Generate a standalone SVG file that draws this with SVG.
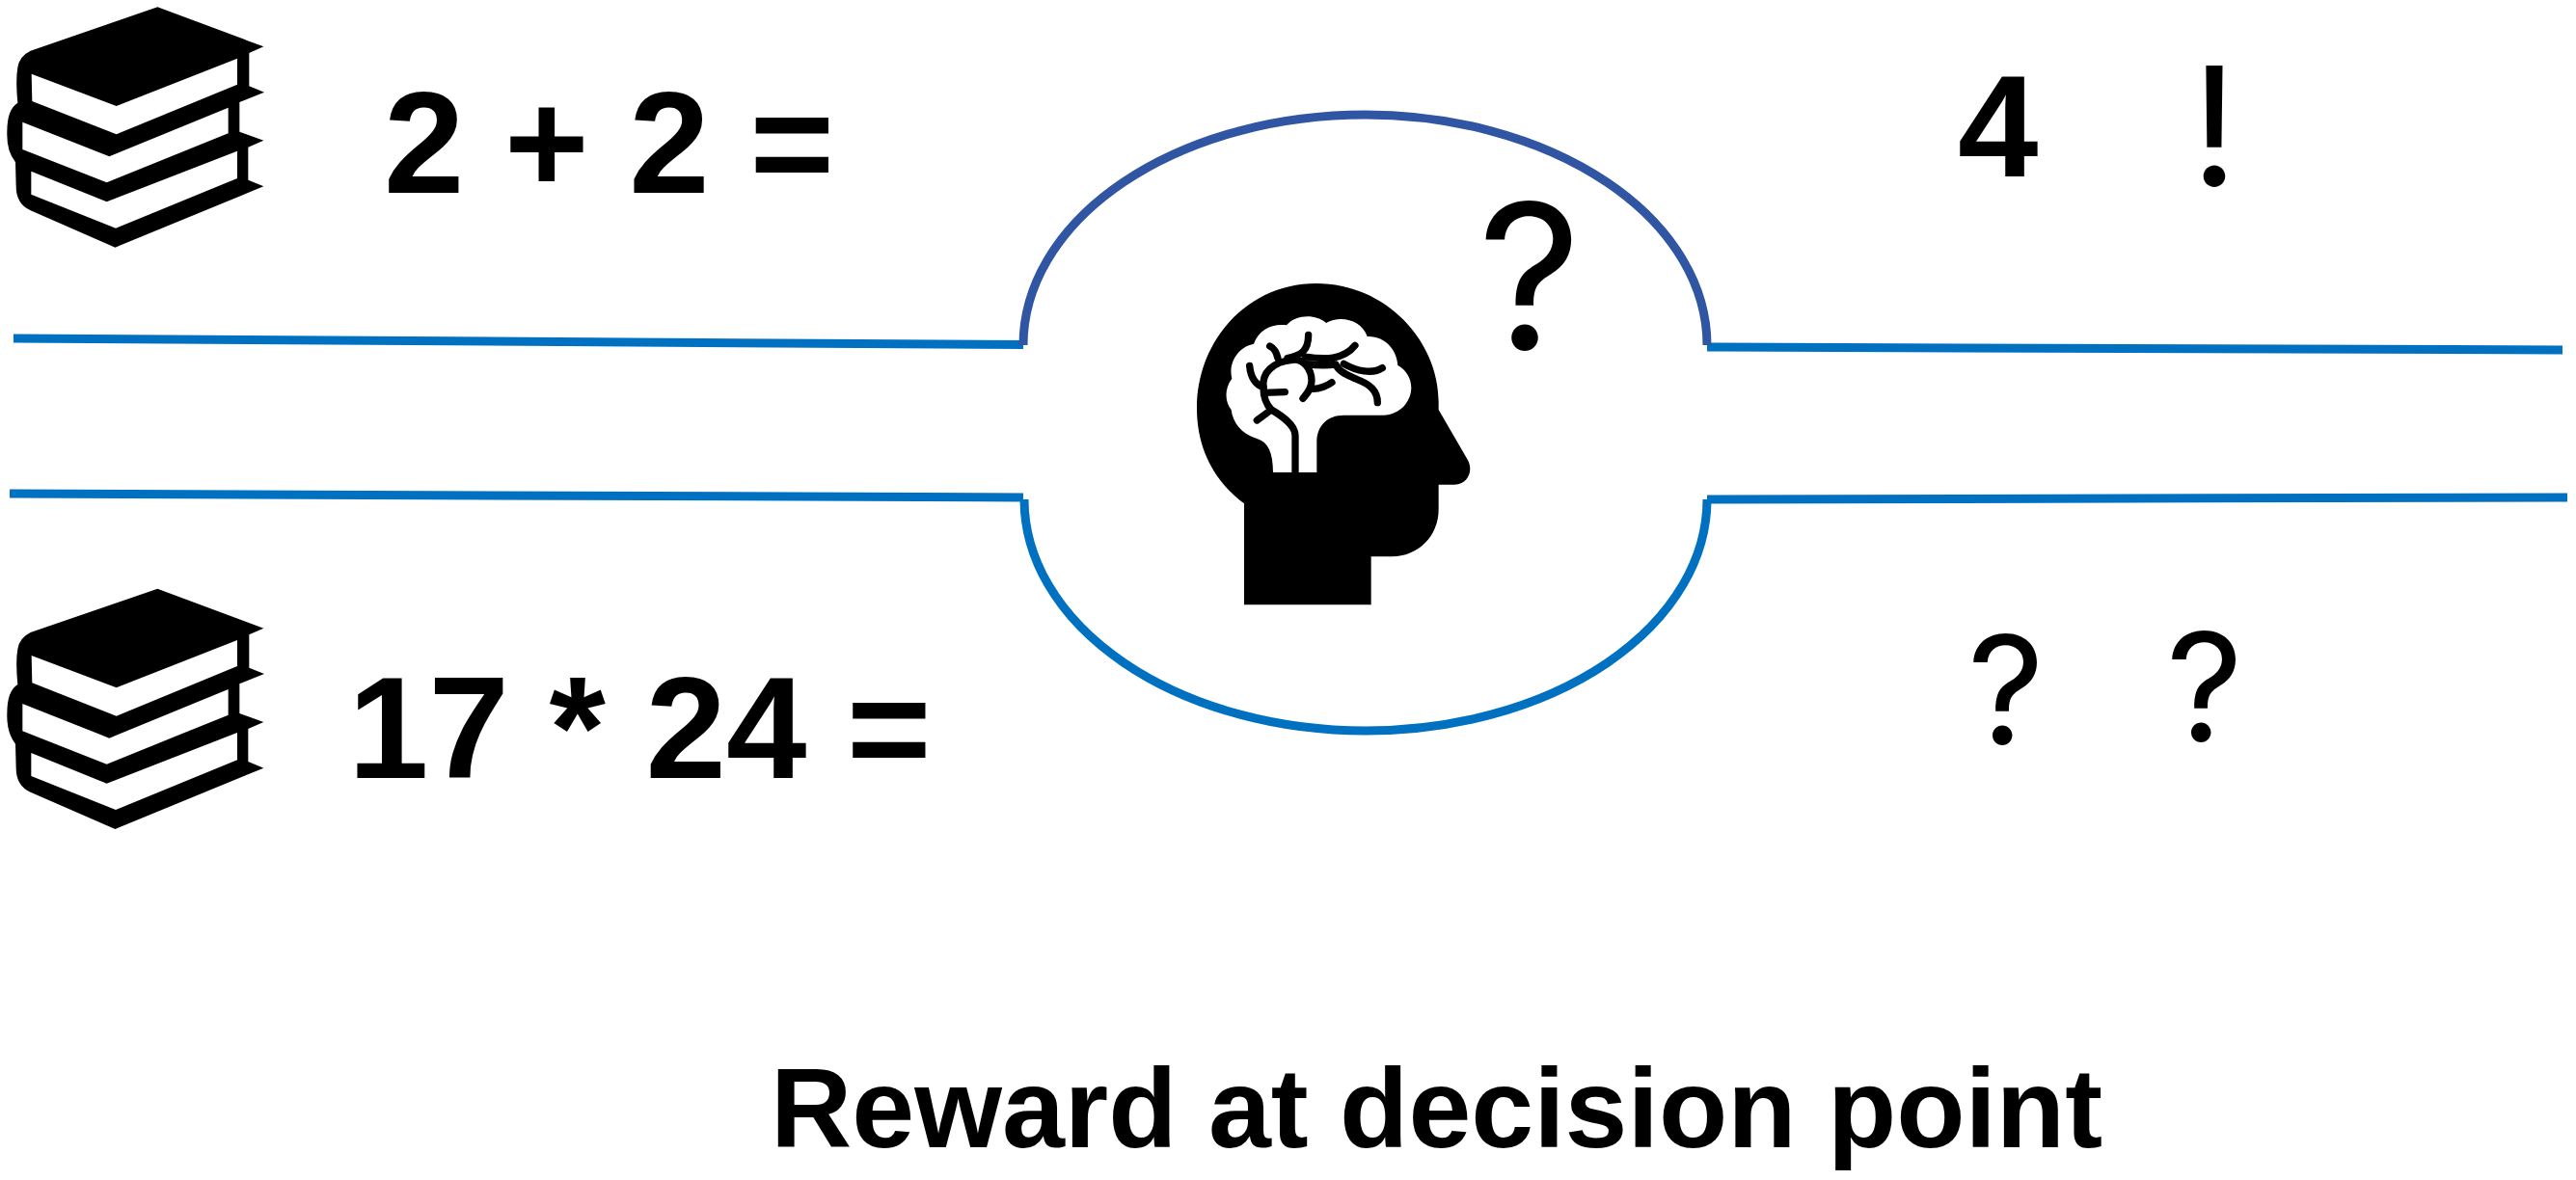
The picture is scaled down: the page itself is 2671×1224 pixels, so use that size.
<svg xmlns="http://www.w3.org/2000/svg" width="2671" height="1224" viewBox="0 0 2671 1224">
<style>
text{font-family:"Liberation Sans",Arial,sans-serif;font-weight:700;fill:#000}
.big{font-size:150px}
.q{font-family:Inter,"Liberation Sans",sans-serif;font-weight:400;text-anchor:middle}
.line{fill:none;stroke:#0070c0;stroke-width:9}
.vein{fill:none;stroke:#000;stroke-width:22;stroke-linecap:round;stroke-linejoin:round}
</style>
<defs>
<g id="books" transform="scale(.33333)">
<path d="M490 22L820 145L775 165V268L822 287L745 318V410L820 437L772 458V560L820 580L358 770L95 655Q50 635 50 580L48 505Q20 470 22 410Q22 340 55 320Q48 250 55 210Q60 175 95 158Z"/>
<path fill="#fff" d="M98 230L362 330L738 182V263L362 418L100 315Z"/>
<path fill="#fff" d="M70 380L340 487L710 335V415L332 568L70 465Z"/>
<path fill="#fff" d="M97 533L332 628L738 470V555L360 710L97 605Z"/>
</g>
</defs>
<rect width="2671" height="1224" fill="#fff"/>
<g id="connectors">
<path class="line" d="M14 351L1061 357.5"/>
<path class="line" d="M10 512L1061 516"/>
<path class="line" d="M1770 360L2657 363"/>
<path class="line" d="M1770 518L2662 516"/>
<path fill="none" stroke="#2f55a3" stroke-width="9" d="M1061 358A354.5 239 0 0 1 1770 358"/>
<path class="line" d="M1062 518A354 240 0 0 0 1770 518"/>
</g>
<g id="books-top"><use href="#books"/></g>
<g id="books-bottom"><use href="#books" y="603.3"/></g>
<g id="sum-easy"><text class="big" x="398" y="200">2 + 2 =</text></g>
<g id="sum-hard"><text class="big" x="361" y="806.7">17 * 24 =</text></g>
<g id="answer"><text class="big" x="2030" y="182.7">4</text></g>
<g id="bang"><text class="q" font-size="172" x="2296" y="193">!</text></g>
<g id="question-head"><text class="q" font-size="210" x="1586" y="363">?</text></g>
<g id="question-a"><text class="q" font-size="156" x="2080" y="772">?</text></g>
<g id="question-b"><text class="q" font-size="156" x="2286" y="769">?</text></g>
<g id="head" transform="translate(1180 270) scale(.33333)">
<path d="M330 1072V757C240 690 183 590 183 460C183 250 340 72 555 72C770 72 935 250 935 440V465L1025 620C1045 655 1025 698 985 698H935V775C935 860 870 922 790 922H725V1072Z"/>
<path fill="#fff" d="M420 660C420 600 405 565 370 555C320 540 295 505 290 465C270 440 268 400 292 368C280 320 310 270 360 260C375 215 420 195 462 202C490 170 550 165 585 195C630 170 695 185 713 237C770 235 805 280 808 327C850 350 860 400 840 435C825 465 795 482 760 482H640C590 482 556 515 556 565V660Z"/>
<path class="vein" stroke-linecap="butt" d="M489 662V545C489 510 440 480 415 465C395 445 390 420 390 395C385 350 420 315 480 310C515 305 540 340 540 375C540 400 525 415 513 430"/>
<path class="vein" d="M392 412L457 410M405 472L370 498M390 395C360 385 350 360 347 328M435 305C430 285 425 275 410 267M465 305C510 295 530 280 530 232M520 300C580 310 640 310 675 265M640 322C680 345 730 355 760 335M520 322C560 328 590 328 615 324C625 350 660 360 680 370C720 385 745 405 745 443M545 400C565 400 590 390 603 380"/>
</g>
<g id="caption"><text font-size="116.7" x="799" y="1190">Reward at decision point</text></g>
</svg>
